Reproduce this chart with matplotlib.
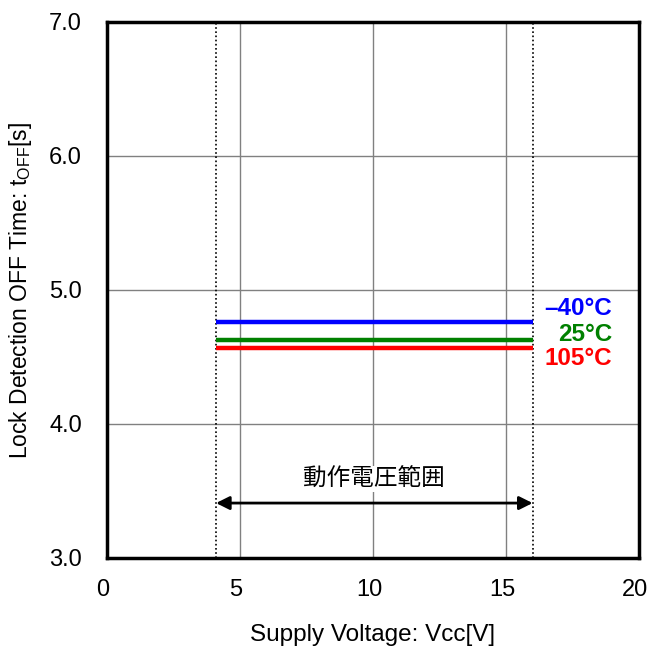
import matplotlib
matplotlib.use("Agg")
import matplotlib.pyplot as plt
import matplotlib.transforms as mtransforms

plt.rcParams['font.family'] = ['Liberation Sans', 'Noto Sans CJK JP', 'DejaVu Sans']

# operating voltage range [V]
vcc_range = [4.1, 16.0]
# lock detection OFF time per temperature [s]
temp_labels = ['\u201340\u00b0C', '25\u00b0C', '105\u00b0C']
toff_values = [4.76, 4.63, 4.57]
temp_colors = ['#0000ff', '#008000', '#ff0000']
label_y = [4.86, 4.67, 4.49]

fig = plt.figure(figsize=(6.51, 6.57), dpi=100)
ax = fig.add_axes([107 / 651, 1 - 558 / 657, 532 / 651, 536 / 657])

for val, col in zip(toff_values, temp_colors):
    ax.plot(vcc_range, [val, val], color=col, linewidth=3.2, solid_capstyle='butt', zorder=3)

for lab, y, col in zip(temp_labels, label_y, temp_colors):
    ax.text(19.0, y, lab, color=col, fontsize=17.5, fontweight='bold',
            ha='right', va='center', zorder=4)

# operating range markers
for v in vcc_range:
    ax.axvline(v, color='black', linestyle=(0, (1, 1.5)), linewidth=1.2, zorder=2)

ax.annotate('', xy=(vcc_range[0], 3.41), xytext=(vcc_range[1], 3.41),
            arrowprops=dict(arrowstyle='<|-|>', color='black', lw=2,
                            mutation_scale=20, shrinkA=0, shrinkB=0), zorder=3)
ax.text(sum(vcc_range) / 2, 3.59, '動作電圧範囲', fontsize=17, ha='center', va='center',
        family=['Noto Sans CJK JP', 'DejaVu Sans'],
        bbox=dict(facecolor='white', edgecolor='none', pad=1), zorder=3)

ax.set_xlim(0, 20)
ax.set_ylim(3.0, 7.0)
ax.set_xticks([0, 5, 10, 15, 20])
ax.set_yticks([3.0, 4.0, 5.0, 6.0, 7.0])
ax.set_yticklabels(['3.0', '4.0', '5.0', '6.0', '7.0'])
ax.grid(True, color='#808080', linewidth=1.0, zorder=1)
ax.set_axisbelow(True)
ax.tick_params(length=0, labelsize=17)
ax.tick_params(axis='x', pad=15)
ax.tick_params(axis='y', pad=18)

# x tick labels sit a little left of their gridlines in the original
shift = mtransforms.ScaledTranslation(-4 / 100, 0, fig.dpi_scale_trans)
for lbl in ax.get_xticklabels():
    lbl.set_transform(lbl.get_transform() + shift)

for sp in ax.spines.values():
    sp.set_linewidth(2.5)
    sp.set_zorder(5)

ax.set_xlabel('Supply Voltage: Vcc[V]', fontsize=17.5, labelpad=17)
ax.set_ylabel('Lock Detection OFF Time: t$_{\\mathregular{OFF}}$[s]', fontsize=16.5, labelpad=11)

fig.savefig('out.png', dpi=100, facecolor='white')
